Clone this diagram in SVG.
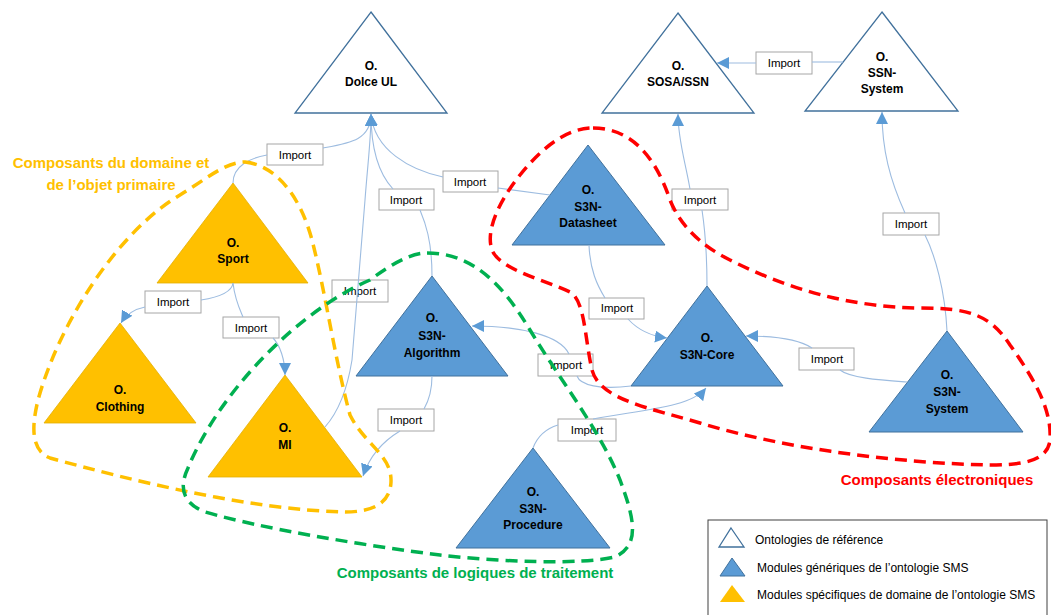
<svg xmlns="http://www.w3.org/2000/svg" width="1051" height="615" viewBox="0 0 1051 615">
  <style>
    .ref { fill: #ffffff; stroke: #41719C; stroke-width: 1.3; }
    .gen { fill: #5B9BD5; stroke: #41719C; stroke-width: 1; }
    .spec { fill: #FFC000; stroke: #E3AE00; stroke-width: 0.8; }
    .lbl { font-family: "Liberation Sans", Arial, sans-serif; font-size: 12px; font-weight: bold; fill: #000; text-anchor: middle; }
    .box rect { fill: #ffffff; stroke: #A6A6A6; stroke-width: 1; }
    .box text { font-family: "Liberation Sans", Arial, sans-serif; font-size: 11.5px; fill: #000; text-anchor: middle; }
    .conn path { fill: none; stroke: #9DBCE0; stroke-width: 1.1; }
    .arr { marker-end: url(#head); }
    .grp { fill: none; stroke-width: 3.5; stroke-dasharray: 12 7; }
    .gtitle { font-family: "Liberation Sans", Arial, sans-serif; font-size: 15px; font-weight: bold; text-anchor: middle; }
    .leg { font-family: "Liberation Sans", Arial, sans-serif; font-size: 12px; fill: #000; }
  </style>
  <defs>
    <marker id="head" viewBox="0 0 10 10" refX="10" refY="5" markerWidth="12" markerHeight="12" markerUnits="userSpaceOnUse" orient="auto">
      <path d="M0,0 L10,5 L0,10 z" fill="#5B9BD5"/>
    </marker>
  </defs>

  <!-- reference ontologies -->
  <g id="dolce">
    <polygon class="ref" points="371,12 447,113 295,113"/>
    <text class="lbl" x="371" y="70">O.</text>
    <text class="lbl" x="371" y="86">Dolce UL</text>
  </g>
  <g id="sosa">
    <polygon class="ref" points="678,13 754,113 602,113"/>
    <text class="lbl" x="678" y="70">O.</text>
    <text class="lbl" x="678" y="86">SOSA/SSN</text>
  </g>
  <g id="ssn-system">
    <polygon class="ref" points="882,12 958,111 805,111"/>
    <text class="lbl" x="882" y="61">O.</text>
    <text class="lbl" x="882" y="77">SSN-</text>
    <text class="lbl" x="882" y="93">System</text>
  </g>

  <!-- generic modules -->
  <g id="s3n-datasheet">
    <polygon class="gen" points="588,145 665,245 512,245"/>
    <text class="lbl" x="588" y="194">O.</text>
    <text class="lbl" x="588" y="211">S3N-</text>
    <text class="lbl" x="588" y="227">Datasheet</text>
  </g>
  <g id="s3n-algorithm">
    <polygon class="gen" points="432,276 508,376 356,376"/>
    <text class="lbl" x="432" y="322">O.</text>
    <text class="lbl" x="432" y="340">S3N-</text>
    <text class="lbl" x="432" y="357">Algorithm</text>
  </g>
  <g id="s3n-core">
    <polygon class="gen" points="707,286 783,386 631,386"/>
    <text class="lbl" x="707" y="342">O.</text>
    <text class="lbl" x="707" y="359">S3N-Core</text>
  </g>
  <g id="s3n-system">
    <polygon class="gen" points="947,331 1023,432 869,432"/>
    <text class="lbl" x="947" y="379">O.</text>
    <text class="lbl" x="947" y="396">S3N-</text>
    <text class="lbl" x="947" y="413">System</text>
  </g>
  <g id="s3n-procedure">
    <polygon class="gen" points="533,448 610,548 456,548"/>
    <text class="lbl" x="533" y="496">O.</text>
    <text class="lbl" x="533" y="513">S3N-</text>
    <text class="lbl" x="533" y="529">Procedure</text>
  </g>

  <!-- domain-specific modules -->
  <g id="sport">
    <polygon class="spec" points="233,183 308,283 157,283"/>
    <text class="lbl" x="233" y="247">O.</text>
    <text class="lbl" x="233" y="263">Sport</text>
  </g>
  <g id="clothing">
    <polygon class="spec" points="120,323 196,423 44,423"/>
    <text class="lbl" x="120" y="394">O.</text>
    <text class="lbl" x="120" y="411">Clothing</text>
  </g>
  <g id="mi">
    <polygon class="spec" points="285,375 362,477 208,477"/>
    <text class="lbl" x="285" y="432">O.</text>
    <text class="lbl" x="285" y="449">MI</text>
  </g>

  <!-- import labels -->
  <g id="import-labels" class="box">
    <rect x="267" y="144" width="56" height="21"/><text x="295" y="159">Import</text>
    <rect x="443" y="171" width="55" height="21"/><text x="470" y="186">Import</text>
    <rect x="379" y="189" width="55" height="21"/><text x="406" y="204">Import</text>
    <rect x="756" y="52" width="56" height="22"/><text x="784" y="67">Import</text>
    <rect x="672" y="189" width="56" height="21"/><text x="700" y="204">Import</text>
    <rect x="883" y="213" width="56" height="22"/><text x="911" y="228">Import</text>
    <rect x="145" y="291" width="56" height="22"/><text x="173" y="306">Import</text>
    <rect x="223" y="317" width="56" height="21"/><text x="251" y="332">Import</text>
    <rect x="332" y="280" width="56" height="22"/><text x="360" y="295">Import</text>
    <rect x="589" y="298" width="55" height="21"/><text x="617" y="312">Import</text>
    <rect x="538" y="354" width="55" height="22"/><text x="566" y="369">Import</text>
    <rect x="799" y="348" width="55" height="22"/><text x="827" y="363">Import</text>
    <rect x="378" y="409" width="56" height="22"/><text x="406" y="424">Import</text>
    <rect x="558" y="419" width="58" height="22"/><text x="587" y="434">Import</text>
  </g>

  <!-- import connectors -->
  <g id="connectors" class="conn">
    <!-- Sport -> Dolce UL -->
    <path d="M233,183 C233,166 250,158 267,155"/>
    <path class="arr" d="M323,148 C350,143 371,140 371,114"/>
    <!-- Datasheet -> Dolce UL -->
    <path d="M550,195 L498,188"/>
    <path class="arr" d="M443,177 C410,170 374,150 371,114"/>
    <!-- Algorithm -> Dolce UL -->
    <path d="M432,276 C432,240 425,222 420,210"/>
    <path class="arr" d="M393,189 C380,175 371,150 371,114"/>
    <!-- MI -> Dolce UL -->
    <path class="arr" d="M325,427 C340,410 348,385 352,360 L365,200 C368,160 371,140 371,114"/>
    <!-- SSN-System -> SOSA/SSN -->
    <path d="M843,62 L812,62"/>
    <path class="arr" d="M756,63 L717,63"/>
    <!-- S3N-Core -> SOSA/SSN -->
    <path d="M707,286 C707,260 705,230 702,210"/>
    <path class="arr" d="M690,189 C685,160 678,140 678,114"/>
    <!-- S3N-System -> SSN-System -->
    <path d="M947,331 C945,290 935,255 925,235"/>
    <path class="arr" d="M905,213 C890,180 882,150 882,112"/>
    <!-- Sport -> Clothing -->
    <path d="M233,283 C232,292 220,297 201,300"/>
    <path class="arr" d="M145,307 C135,309 127,313 121,323"/>
    <!-- Sport -> MI -->
    <path d="M233,283 C235,300 240,310 243,317"/>
    <path class="arr" d="M273,338 C280,345 285,360 285,375"/>
    <!-- Datasheet -> S3N-Core -->
    <path d="M589,245 C590,270 597,285 605,298"/>
    <path class="arr" d="M628,319 C638,330 650,336 667,338"/>
    <!-- S3N-Core -> Algorithm -->
    <path d="M631,386 C600,390 580,385 577,376"/>
    <path class="arr" d="M569,354 C560,335 520,326 472,326"/>
    <!-- S3N-System -> S3N-Core -->
    <path d="M907,382 C880,380 850,378 840,370"/>
    <path class="arr" d="M812,348 C800,340 780,336 746,336"/>
    <!-- Algorithm -> MI -->
    <path d="M432,376 C432,392 428,402 424,409"/>
    <path class="arr" d="M400,431 C385,440 370,455 363,476"/>
    <!-- Procedure -> S3N-Core -->
    <path d="M533,448 C538,435 548,428 558,425"/>
    <path class="arr" d="M593,419 C640,410 690,408 706,388"/>
  </g>

  <!-- component groupings -->
  <g id="group-domaine">
    <path class="grp" stroke="#FFC000" d="M245,162 C275,165 300,195 312,240 C325,290 335,360 350,415 C365,445 392,455 391,482 C390,505 370,512 345,512 C250,510 130,480 50,458 C30,450 32,425 38,400 C60,320 120,230 180,195 C205,180 225,162 245,162 Z"/>
    <text class="gtitle" fill="#FFC000" x="111" y="168">Composants du domaine et</text>
    <text class="gtitle" fill="#FFC000" x="111" y="190">de l’objet primaire</text>
  </g>
  <g id="group-traitement">
    <path class="grp" stroke="#00B050" d="M427,253 C470,253 500,280 530,330 C560,380 600,430 620,480 C635,520 640,545 615,557 C580,565 500,562 440,555 C360,545 260,528 205,512 C180,502 180,485 188,468 C220,390 300,310 370,280 C390,265 410,253 427,253 Z"/>
    <text class="gtitle" fill="#00B050" x="475" y="578">Composants de logiques de traitement</text>
  </g>
  <g id="group-electronique">
    <path class="grp" stroke="#FF0000" d="M593,128 C630,128 655,155 670,200 C680,225 700,245 730,260 C790,290 850,307 920,308 C970,308 990,315 1010,345 C1035,380 1052,410 1050,440 C1048,462 1020,465 990,465 C900,463 790,450 700,423 C650,408 600,400 592,370 C585,340 585,300 570,292 C545,280 500,270 492,250 C485,230 500,200 520,175 C540,150 565,128 593,128 Z"/>
    <text class="gtitle" fill="#FF0000" x="937" y="485">Composants électroniques</text>
  </g>

  <!-- legend -->
  <g id="legend">
    <rect x="708" y="520" width="339" height="100" fill="#ffffff" stroke="#404040" stroke-width="1"/>
    <polygon class="ref" points="731,528 744,547 719,547"/>
    <text class="leg" x="755" y="544">Ontologies de référence</text>
    <polygon class="gen" points="732,558 745,576 720,576"/>
    <text class="leg" x="757" y="572">Modules génériques de l’ontologie SMS</text>
    <polygon fill="#FFC000" points="732,585 745,602 720,602"/>
    <text class="leg" x="757" y="599">Modules spécifiques de domaine de l’ontologie SMS</text>
  </g>
</svg>
